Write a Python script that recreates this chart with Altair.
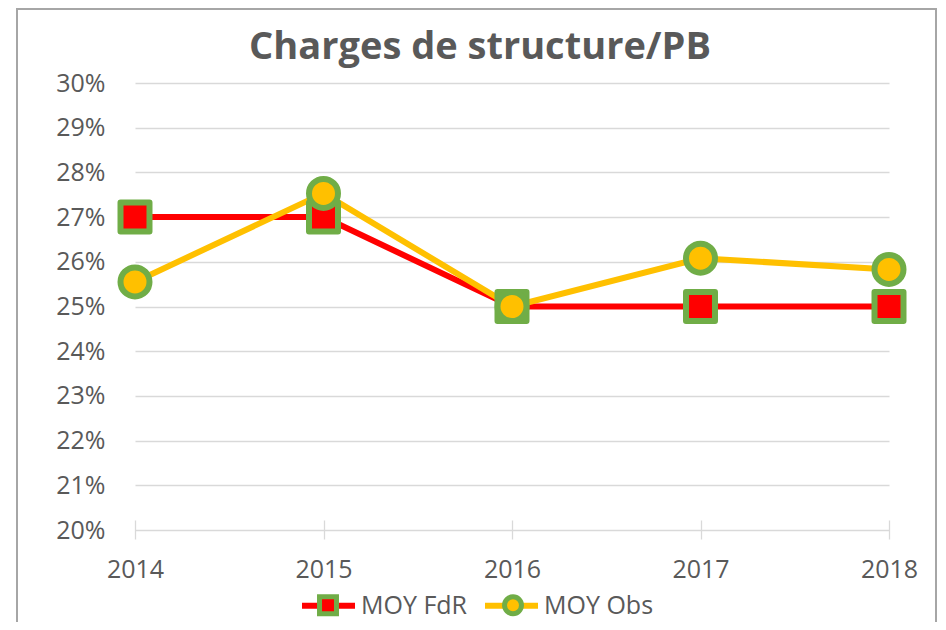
import altair as alt
import pandas as pd

# ---- data ----
years = ["2014", "2015", "2016", "2017", "2018"]
moy_fdr = [0.270, 0.270, 0.250, 0.250, 0.250]
moy_obs = [0.2555, 0.2753, 0.2500, 0.2608, 0.2583]
series_names = ["MOY FdR", "MOY Obs"]
y_ticks = [0.20, 0.21, 0.22, 0.23, 0.24, 0.25, 0.26, 0.27, 0.28, 0.29, 0.30]
title_text = "Charges de structure/PB"

# ---- styles ----
LINE_COLORS = ["#FF0000", "#FFC000"]
GREEN = "#70AD47"
GRID = "#D9D9D9"
TEXT = "#595959"
FONT = "Open Sans"
SQUARE = "M-0.32,-0.32H0.32V0.32H-0.32Z"
CIRCLE = "M0.32,0A0.32,0.32,0,1,1,-0.32,0A0.32,0.32,0,1,1,0.32,0Z"
LEG_LINE = "M-1,0H-0.3M0.3,0H1"

rows = []
for name, vals in zip(series_names, [moy_fdr, moy_obs]):
    for yr, v in zip(years, vals):
        rows.append({"annee": yr, "valeur": v, "serie": name, "serie_m": name})
df = pd.DataFrame(rows)

x_enc = alt.X(
    "annee:O",
    scale=alt.Scale(type="point", padding=0, domain=years),
    axis=alt.Axis(
        title=None, labelAngle=0, domain=False, grid=False,
        ticks=True, tickSize=19, tickColor=GRID, tickWidth=1.3, offset=-10,
        labelPadding=18, labelFont=FONT, labelFontSize=25, labelColor=TEXT,
    ),
)
y_enc = alt.Y(
    "valeur:Q",
    scale=alt.Scale(domain=[0.20, 0.30], nice=False, zero=False),
    axis=alt.Axis(
        title=None, values=y_ticks, format=".0%", domain=False, ticks=False,
        tickSize=0, labelPadding=30, gridColor=GRID, gridWidth=1.3,
        labelFont=FONT, labelFontSize=25, labelColor=TEXT,
    ),
)

common_leg = dict(
    orient="none", direction="horizontal", title=None, symbolSize=2809,
    labelFont=FONT, labelFontSize=25, labelColor=TEXT, labelOffset=3,
    padding=0, legendX=164, legendY=493,
)
# visible legend: coloured lines + series names
leg_lines = alt.Legend(symbolType=LEG_LINE, symbolStrokeWidth=6,
                       columnPadding=5, zindex=1, **common_leg)
# overlay legend: only the markers, drawn over the line legend
leg_marks = alt.Legend(symbolStrokeWidth=5, labelExpr="''",
                       columnPadding=124, zindex=2, **common_leg)

base = alt.Chart(df)

lines = base.mark_line(strokeWidth=6).encode(
    x=x_enc, y=y_enc,
    stroke=alt.Stroke("serie:N", scale=alt.Scale(range=LINE_COLORS), legend=leg_lines),
)

points = base.mark_point(
    filled=True, size=8208, strokeWidth=6, opacity=1, strokeJoin="round",
).encode(
    x=x_enc, y=y_enc,
    fill=alt.Fill("serie_m:N", scale=alt.Scale(range=LINE_COLORS), legend=leg_marks),
    shape=alt.Shape("serie_m:N", scale=alt.Scale(range=[SQUARE, CIRCLE]), legend=leg_marks),
    stroke=alt.Stroke("serie_m:N", scale=alt.Scale(range=[GREEN, GREEN]), legend=leg_marks),
)

border = alt.Chart(alt.Data(values=[{"b": 1}])).mark_rect(
    fillOpacity=0, stroke="#A6A6A6", strokeWidth=2
).encode(x=alt.value(-118), x2=alt.value(801), y=alt.value(-74), y2=alt.value(620))

chart = alt.layer(border, lines, points).resolve_scale(
    stroke="independent", fill="independent", shape="independent"
).properties(
    width=754, height=447,
    padding={"left": 127, "top": 75, "right": 49, "bottom": 92},
    autosize="none",
    title=alt.Title(title_text, font=FONT, fontSize=38, fontWeight="bold",
                    color=TEXT, anchor="middle", dx=-32, offset=-59),
).configure_view(strokeWidth=0)

chart.save("out.html", embed_options={"renderer": "svg", "actions": False})
